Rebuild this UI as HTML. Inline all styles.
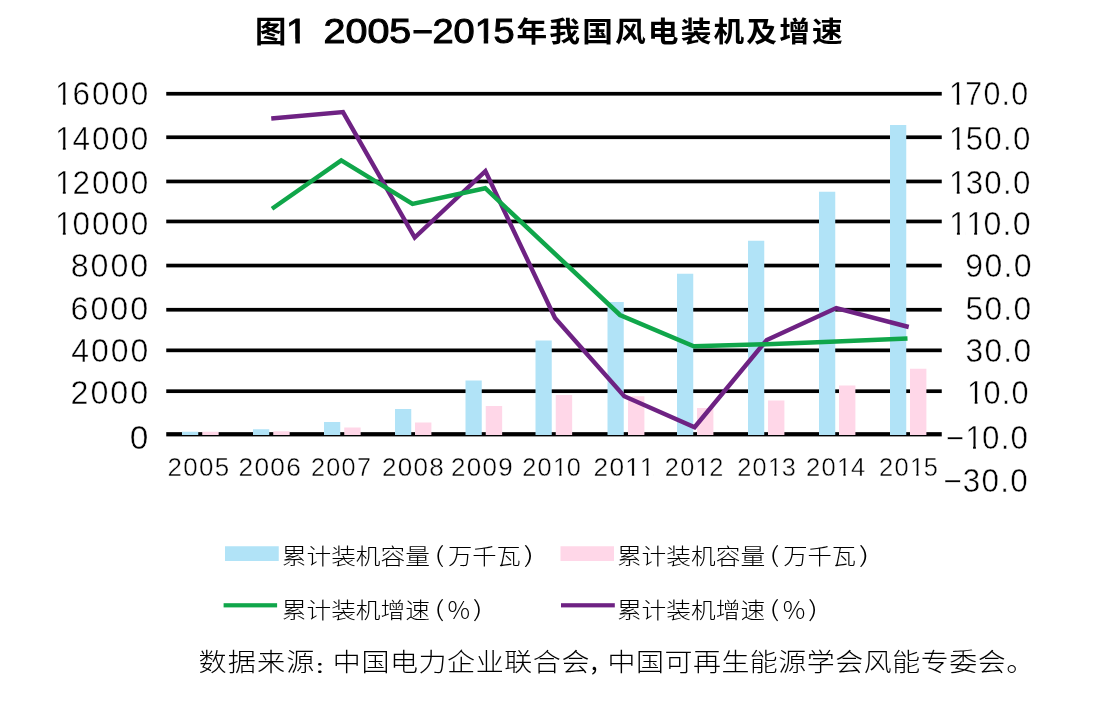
<!DOCTYPE html>
<html lang="zh-CN">
<head>
<meta charset="utf-8">
<title>图1 2005-2015年我国风电装机及增速</title>
<style>
html,body{margin:0;padding:0;background:#fff;}
body{width:1100px;height:709px;overflow:hidden;}
svg{display:block;}
text{white-space:pre;}
</style>
</head>
<body>
<svg width="1100" height="709" viewBox="0 0 1100 709" role="img" aria-label="图1 2005-2015年我国风电装机及增速">
<rect width="1100" height="709" fill="#fff"/>
<g fill="#000">
<rect x="166.25" y="91.9" width="775.5" height="3.7"/>
<rect x="166.25" y="135.4" width="775.5" height="3.7"/>
<rect x="166.25" y="179.6" width="775.5" height="3.7"/>
<rect x="166.25" y="219.6" width="775.5" height="3.7"/>
<rect x="166.25" y="263.7" width="775.5" height="3.7"/>
<rect x="166.25" y="307.9" width="775.5" height="3.7"/>
<rect x="166.25" y="348.5" width="775.5" height="3.7"/>
<rect x="166.25" y="389.35" width="775.5" height="3.7"/>
<rect x="166.25" y="432.15" width="775.5" height="4.25"/>
</g>
<g fill="#b1e3f7">
<rect x="182" y="431.75" width="16.25" height="3.25"/>
<rect x="253" y="429.25" width="16.25" height="5.75"/>
<rect x="324" y="422" width="16.25" height="13"/>
<rect x="395" y="409" width="16.25" height="26"/>
<rect x="465.5" y="380.5" width="16.25" height="54.5"/>
<rect x="535.5" y="340.5" width="16.25" height="94.5"/>
<rect x="607.5" y="302" width="16.25" height="133"/>
<rect x="677" y="273.75" width="16.25" height="161.25"/>
<rect x="748" y="240.75" width="16.25" height="194.25"/>
<rect x="819" y="191.75" width="16.25" height="243.25"/>
<rect x="890" y="125" width="16.25" height="310"/>
</g>
<g fill="#ffd7e8">
<rect x="202.25" y="431.75" width="16.4" height="3.25"/>
<rect x="273.25" y="431.25" width="16.4" height="3.75"/>
<rect x="344.25" y="427.5" width="16.4" height="7.5"/>
<rect x="415" y="422.5" width="16.4" height="12.5"/>
<rect x="485.75" y="406" width="16.4" height="29"/>
<rect x="555.75" y="395" width="16.4" height="40"/>
<rect x="628" y="396.25" width="16.4" height="38.75"/>
<rect x="697" y="408" width="16.4" height="27"/>
<rect x="768" y="400.5" width="16.4" height="34.5"/>
<rect x="839" y="385.5" width="16.4" height="49.5"/>
<rect x="910" y="368.75" width="16.4" height="66.25"/>
</g>
<polyline fill="none" stroke="#6e2283" stroke-width="4.4" stroke-linejoin="miter" stroke-miterlimit="10" points="271.25,118.5 343,112.1 414.7,237.5 485.4,171.1 555,318 624.25,396.25 694.6,427.2 766.75,340 836.25,308 908.75,327"/>
<polyline fill="none" stroke="#10a64a" stroke-width="4.5" stroke-linejoin="miter" stroke-miterlimit="10" points="272,208.75 341.25,160.4 412.5,203.9 485.25,188.2 620,315 693.75,346.25 766.75,344.25 836.25,341.5 907.5,338.5"/>
<rect x="225" y="546.25" width="53.75" height="14.75" fill="#b1e3f7"/>
<rect x="560.5" y="546.25" width="53.5" height="14.75" fill="#ffd7e8"/>
<rect x="223.6" y="603.2" width="53.5" height="4.2" fill="#10a64a"/>
<rect x="561" y="603.2" width="53.8" height="4.2" fill="#6e2283"/>

<g>
<text transform="translate(255.10 42) scale(1.0583 1)" font-family="'Noto Sans CJK SC', sans-serif" font-weight="700" font-size="29.67" fill="#000">图</text>
<text transform="translate(286.11 43) scale(1.1300 1)" font-family="'Liberation Sans', sans-serif" font-weight="400" font-size="34.40" fill="#000" stroke="#000" stroke-width="1.0">1</text>
<text transform="translate(323.53 43) scale(1.1523 1)" font-family="'Liberation Sans', sans-serif" font-weight="400" font-size="34.23" fill="#000" stroke="#000" stroke-width="1.0">2005</text>
<text transform="translate(411.97 43) scale(1.0339 1)" font-family="'Liberation Sans', sans-serif" font-weight="400" font-size="34.40" fill="#000" stroke="#000" stroke-width="1.0">−</text>
<text transform="translate(432.50 43) scale(1.1096 1)" font-family="'Liberation Sans', sans-serif" font-weight="400" font-size="34.23" fill="#000" stroke="#000" stroke-width="1.0">201<tspan dx="-2.05">5</tspan></text>
<text transform="translate(516.47 42) scale(1.0862 1)" font-family="'Noto Sans CJK SC', sans-serif" font-weight="700" font-size="28.27" letter-spacing="1.98" fill="#000">年我国风电装机及增速</text>
<text transform="translate(54.96 105) scale(0.9642 1)" font-family="'Liberation Sans', sans-serif" font-weight="400" font-size="32.68" letter-spacing="1.96" fill="#000" stroke="#fff" stroke-width="0.50">1<tspan dx="-1.96">6</tspan>000</text>
<text transform="translate(54.96 150) scale(0.9642 1)" font-family="'Liberation Sans', sans-serif" font-weight="400" font-size="32.68" letter-spacing="1.96" fill="#000" stroke="#fff" stroke-width="0.50">1<tspan dx="-1.96">4</tspan>000</text>
<text transform="translate(54.96 194) scale(0.9642 1)" font-family="'Liberation Sans', sans-serif" font-weight="400" font-size="32.68" letter-spacing="1.96" fill="#000" stroke="#fff" stroke-width="0.50">1<tspan dx="-1.96">2</tspan>000</text>
<text transform="translate(54.96 235) scale(0.9642 1)" font-family="'Liberation Sans', sans-serif" font-weight="400" font-size="32.68" letter-spacing="1.96" fill="#000" stroke="#fff" stroke-width="0.50">1<tspan dx="-1.96">0</tspan>000</text>
<text transform="translate(70.70 277) scale(0.9867 1)" font-family="'Liberation Sans', sans-serif" font-weight="400" font-size="32.68" letter-spacing="1.96" fill="#000" stroke="#fff" stroke-width="0.50">8000</text>
<text transform="translate(70.53 320) scale(0.9888 1)" font-family="'Liberation Sans', sans-serif" font-weight="400" font-size="32.68" letter-spacing="1.96" fill="#000" stroke="#fff" stroke-width="0.50">6000</text>
<text transform="translate(71.35 362) scale(0.9783 1)" font-family="'Liberation Sans', sans-serif" font-weight="400" font-size="32.68" letter-spacing="1.96" fill="#000" stroke="#fff" stroke-width="0.50">4000</text>
<text transform="translate(70.53 404) scale(0.9888 1)" font-family="'Liberation Sans', sans-serif" font-weight="400" font-size="32.68" letter-spacing="1.96" fill="#000" stroke="#fff" stroke-width="0.50">2000</text>
<text transform="translate(129.71 449) scale(1.0244 1)" font-family="'Liberation Sans', sans-serif" font-weight="400" font-size="32.68" letter-spacing="1.96" fill="#000" stroke="#fff" stroke-width="0.49">0</text>
<text transform="translate(949.06 105) scale(0.9305 1)" font-family="'Liberation Sans', sans-serif" font-weight="400" font-size="32.68" letter-spacing="1.31" fill="#000" stroke="#fff" stroke-width="0.50">1<tspan dx="-1.96">7</tspan>0.0</text>
<text transform="translate(948.98 150) scale(0.9565 1)" font-family="'Liberation Sans', sans-serif" font-weight="400" font-size="32.68" letter-spacing="1.31" fill="#000" stroke="#fff" stroke-width="0.50">1<tspan dx="-1.96">5</tspan>0.0</text>
<text transform="translate(948.98 194) scale(0.9565 1)" font-family="'Liberation Sans', sans-serif" font-weight="400" font-size="32.68" letter-spacing="1.31" fill="#000" stroke="#fff" stroke-width="0.50">1<tspan dx="-1.96">3</tspan>0.0</text>
<text transform="translate(948.89 235) scale(0.9843 1)" font-family="'Liberation Sans', sans-serif" font-weight="400" font-size="32.68" letter-spacing="1.31" fill="#000" stroke="#fff" stroke-width="0.50">1<tspan dx="-1.96">1</tspan><tspan dx="-1.96">0</tspan>.0</text>
<text transform="translate(965.31 277) scale(0.9815 1)" font-family="'Liberation Sans', sans-serif" font-weight="400" font-size="32.68" letter-spacing="1.31" fill="#000" stroke="#fff" stroke-width="0.50">90.0</text>
<text transform="translate(965.48 320) scale(0.9713 1)" font-family="'Liberation Sans', sans-serif" font-weight="400" font-size="32.68" letter-spacing="1.31" fill="#000" stroke="#fff" stroke-width="0.50">50.0</text>
<text transform="translate(965.48 362) scale(0.9713 1)" font-family="'Liberation Sans', sans-serif" font-weight="400" font-size="32.68" letter-spacing="1.31" fill="#000" stroke="#fff" stroke-width="0.50">30.0</text>
<text transform="translate(967.04 404) scale(0.9378 1)" font-family="'Liberation Sans', sans-serif" font-weight="400" font-size="32.68" letter-spacing="1.31" fill="#000" stroke="#fff" stroke-width="0.50">1<tspan dx="-1.96">0</tspan>.0</text>
<text transform="translate(945.69 449) scale(0.9579 1)" font-family="'Liberation Sans', sans-serif" font-weight="400" font-size="32.68" letter-spacing="1.31" fill="#000" stroke="#fff" stroke-width="0.50">−1<tspan dx="-1.96">0</tspan>.0</text>
<text transform="translate(943.18 492) scale(0.9617 1)" font-family="'Liberation Sans', sans-serif" font-weight="400" font-size="32.68" letter-spacing="1.31" fill="#000" stroke="#fff" stroke-width="0.50">−30.0</text>
<text transform="translate(167.60 476) scale(1.0069 1)" font-family="'Liberation Sans', sans-serif" font-weight="400" font-size="25.77" letter-spacing="1.29" fill="#000" stroke="#fff" stroke-width="0.40">2005</text>
<text transform="translate(238.49 476) scale(1.0193 1)" font-family="'Liberation Sans', sans-serif" font-weight="400" font-size="25.77" letter-spacing="1.29" fill="#000" stroke="#fff" stroke-width="0.39">2006</text>
<text transform="translate(311.04 476) scale(0.9789 1)" font-family="'Liberation Sans', sans-serif" font-weight="400" font-size="25.77" letter-spacing="1.29" fill="#000" stroke="#fff" stroke-width="0.40">2007</text>
<text transform="translate(382.00 476) scale(1.0108 1)" font-family="'Liberation Sans', sans-serif" font-weight="400" font-size="25.77" letter-spacing="1.29" fill="#000" stroke="#fff" stroke-width="0.40">2008</text>
<text transform="translate(451.00 476) scale(1.0087 1)" font-family="'Liberation Sans', sans-serif" font-weight="400" font-size="25.77" letter-spacing="1.29" fill="#000" stroke="#fff" stroke-width="0.40">2009</text>
<text transform="translate(522.29 476) scale(0.9791 1)" font-family="'Liberation Sans', sans-serif" font-weight="400" font-size="25.77" letter-spacing="1.29" fill="#000" stroke="#fff" stroke-width="0.40">201<tspan dx="-1.55">0</tspan></text>
<text transform="translate(593.49 476) scale(1.0189 1)" font-family="'Liberation Sans', sans-serif" font-weight="400" font-size="25.77" letter-spacing="1.29" fill="#000" stroke="#fff" stroke-width="0.39">201<tspan dx="-1.55">1</tspan></text>
<text transform="translate(664.78 476) scale(0.9835 1)" font-family="'Liberation Sans', sans-serif" font-weight="400" font-size="25.77" letter-spacing="1.29" fill="#000" stroke="#fff" stroke-width="0.40">201<tspan dx="-1.55">2</tspan></text>
<text transform="translate(737.29 476) scale(0.9813 1)" font-family="'Liberation Sans', sans-serif" font-weight="400" font-size="25.77" letter-spacing="1.29" fill="#000" stroke="#fff" stroke-width="0.40">201<tspan dx="-1.55">3</tspan></text>
<text transform="translate(806.02 476) scale(0.9921 1)" font-family="'Liberation Sans', sans-serif" font-weight="400" font-size="25.77" letter-spacing="1.29" fill="#000" stroke="#fff" stroke-width="0.40">201<tspan dx="-1.55">4</tspan></text>
<text transform="translate(879.03 476) scale(0.9878 1)" font-family="'Liberation Sans', sans-serif" font-weight="400" font-size="25.77" letter-spacing="1.29" fill="#000" stroke="#fff" stroke-width="0.40">201<tspan dx="-1.55">5</tspan></text>
<text transform="translate(281.69 564) scale(1.1244 1)" font-family="'Noto Sans CJK SC', sans-serif" font-weight="300" font-size="22.00" fill="#000">累计装机容量</text>
<text transform="translate(434.14 563) scale(1.4646 1)" font-family="'Noto Sans CJK SC', sans-serif" font-weight="300" font-size="22.00" fill="#000">(</text>
<text transform="translate(448.01 564) scale(1.1047 1)" font-family="'Noto Sans CJK SC', sans-serif" font-weight="300" font-size="22.00" fill="#000">万千瓦</text>
<text transform="translate(523.62 563) scale(1.5657 1)" font-family="'Noto Sans CJK SC', sans-serif" font-weight="300" font-size="22.00" fill="#000">)</text>
<text transform="translate(281.69 618) scale(1.1244 1)" font-family="'Noto Sans CJK SC', sans-serif" font-weight="300" font-size="22.00" fill="#000">累计装机增速</text>
<text transform="translate(434.14 617) scale(1.4580 1)" font-family="'Noto Sans CJK SC', sans-serif" font-weight="300" font-size="22.10" fill="#000">(</text>
<text transform="translate(447.57 619) scale(1.0114 1)" font-family="'Noto Sans CJK SC', sans-serif" font-weight="300" font-size="24.90" fill="#000">%</text>
<text transform="translate(472.71 617) scale(1.4580 1)" font-family="'Noto Sans CJK SC', sans-serif" font-weight="300" font-size="22.10" fill="#000">)</text>
<text transform="translate(616.89 564) scale(1.1244 1)" font-family="'Noto Sans CJK SC', sans-serif" font-weight="300" font-size="22.00" fill="#000">累计装机容量</text>
<text transform="translate(769.34 563) scale(1.4646 1)" font-family="'Noto Sans CJK SC', sans-serif" font-weight="300" font-size="22.00" fill="#000">(</text>
<text transform="translate(783.21 564) scale(1.1047 1)" font-family="'Noto Sans CJK SC', sans-serif" font-weight="300" font-size="22.00" fill="#000">万千瓦</text>
<text transform="translate(858.82 563) scale(1.5657 1)" font-family="'Noto Sans CJK SC', sans-serif" font-weight="300" font-size="22.00" fill="#000">)</text>
<text transform="translate(616.89 618) scale(1.1244 1)" font-family="'Noto Sans CJK SC', sans-serif" font-weight="300" font-size="22.00" fill="#000">累计装机增速</text>
<text transform="translate(769.34 617) scale(1.4580 1)" font-family="'Noto Sans CJK SC', sans-serif" font-weight="300" font-size="22.10" fill="#000">(</text>
<text transform="translate(782.77 619) scale(1.0114 1)" font-family="'Noto Sans CJK SC', sans-serif" font-weight="300" font-size="24.90" fill="#000">%</text>
<text transform="translate(807.91 617) scale(1.4580 1)" font-family="'Noto Sans CJK SC', sans-serif" font-weight="300" font-size="22.10" fill="#000">)</text>
<text transform="translate(198.49 671) scale(1.1116 1)" font-family="'Noto Sans CJK SC', sans-serif" font-weight="300" font-size="25.30" letter-spacing="1.01" fill="#000">数据来源</text>
<text transform="translate(315.92 673) scale(1.4943 1)" font-family="'Noto Sans CJK SC', sans-serif" font-weight="400" font-size="18.53" fill="#000">:</text>
<text transform="translate(332.80 671) scale(1.1077 1)" font-family="'Noto Sans CJK SC', sans-serif" font-weight="300" font-size="25.30" letter-spacing="0.51" fill="#000">中国电力企业联合会</text>
<text transform="translate(590.83 670) scale(0.9876 1)" font-family="'Noto Sans CJK SC', sans-serif" font-weight="400" font-size="25.16" fill="#000">,</text>
<text transform="translate(607.41 671) scale(1.1045 1)" font-family="'Noto Sans CJK SC', sans-serif" font-weight="300" font-size="25.30" letter-spacing="0.51" fill="#000">中国可再生能源学会风能专委会</text>
<text transform="translate(1006.29 671) scale(1.1916 1)" font-family="'Noto Sans CJK SC', sans-serif" font-weight="300" font-size="23.73" fill="#000">。</text>
</g>
<g fill="#fff">
<rect x="287.87" y="38.73" width="7.46" height="5.37"/>
<rect x="299.87" y="38.73" width="7.16" height="5.37"/>
<rect x="476.41" y="38.74" width="7.31" height="5.36"/>
<rect x="488.17" y="38.74" width="7.01" height="5.36"/>
<rect x="56.66" y="101.86" width="6.17" height="3.74"/>
<rect x="65.71" y="101.86" width="5.93" height="3.74"/>
<rect x="56.66" y="146.86" width="6.17" height="3.74"/>
<rect x="65.71" y="146.86" width="5.93" height="3.74"/>
<rect x="56.66" y="190.86" width="6.17" height="3.74"/>
<rect x="65.71" y="190.86" width="5.93" height="3.74"/>
<rect x="56.66" y="231.86" width="6.17" height="3.74"/>
<rect x="65.71" y="231.86" width="5.93" height="3.74"/>
<rect x="950.68" y="101.86" width="5.98" height="3.74"/>
<rect x="959.44" y="101.86" width="5.74" height="3.74"/>
<rect x="950.66" y="146.86" width="6.13" height="3.74"/>
<rect x="959.65" y="146.86" width="5.88" height="3.74"/>
<rect x="950.66" y="190.86" width="6.13" height="3.74"/>
<rect x="959.65" y="190.86" width="5.88" height="3.74"/>
<rect x="950.64" y="231.86" width="6.29" height="3.74"/>
<rect x="959.87" y="231.86" width="6.04" height="3.74"/>
<rect x="967.89" y="231.86" width="6.29" height="3.74"/>
<rect x="977.12" y="231.86" width="6.04" height="3.74"/>
<rect x="968.67" y="400.86" width="6.02" height="3.74"/>
<rect x="977.50" y="400.86" width="5.78" height="3.74"/>
<rect x="966.89" y="445.86" width="6.14" height="3.74"/>
<rect x="975.89" y="445.86" width="5.89" height="3.74"/>
<rect x="554.09" y="473.37" width="5.07" height="3.23"/>
<rect x="561.49" y="473.37" width="4.88" height="3.23"/>
<rect x="626.60" y="473.37" width="5.25" height="3.23"/>
<rect x="634.27" y="473.37" width="5.05" height="3.23"/>
<rect x="640.94" y="473.37" width="5.25" height="3.23"/>
<rect x="648.62" y="473.37" width="5.05" height="3.23"/>
<rect x="696.72" y="473.37" width="5.09" height="3.23"/>
<rect x="704.16" y="473.37" width="4.90" height="3.23"/>
<rect x="769.14" y="473.37" width="5.08" height="3.23"/>
<rect x="776.56" y="473.37" width="4.89" height="3.23"/>
<rect x="838.24" y="473.37" width="5.13" height="3.23"/>
<rect x="845.73" y="473.37" width="4.93" height="3.23"/>
<rect x="911.12" y="473.37" width="5.11" height="3.23"/>
<rect x="918.59" y="473.37" width="4.91" height="3.23"/>
</g>
</svg>
</body>
</html>
